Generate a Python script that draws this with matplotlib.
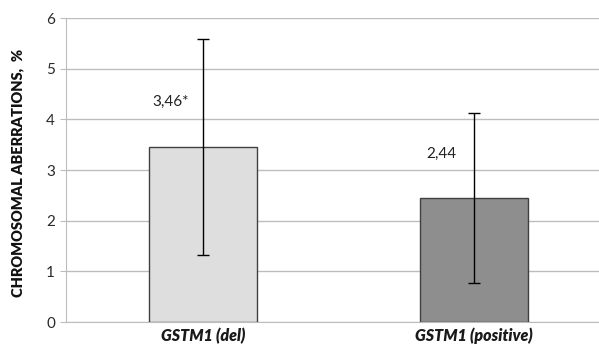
import numpy as np
import matplotlib.pyplot as plt

plt.rcParams['font.family'] = ['Lato', 'DejaVu Sans']

groups = ['GSTM1 (del)', 'GSTM1 (positive)']
means = [3.46, 2.44]
errs = [2.13, 1.68]
labels = ['3,46*', '2,44']
colors = ['#dedede', '#8e8e8e']

fig = plt.figure(figsize=(5.99, 3.45), dpi=100)
ax = fig.add_axes([66 / 599, 23 / 345, 533 / 599, 304 / 345])

x = np.arange(len(groups))
ax.bar(x, means, width=0.40, color=colors, edgecolor='#404040', linewidth=1.0, zorder=3)
ax.errorbar(x, means, yerr=errs, fmt='none', ecolor='black', elinewidth=1.0,
            capsize=4, capthick=1.0, zorder=4)

for xi, m, lab in zip(x, means, labels):
    ax.text(xi - 0.12, m + 0.88, lab, ha='center', va='center', fontsize=11, color='#222222')

ax.set_xlim(-0.5055, 1.461)
ax.set_ylim(0, 6)
ax.set_yticks(range(0, 7))
ax.yaxis.grid(True, color='#bdbdbd', linewidth=1.0, zorder=0)
ax.set_axisbelow(True)

ax.set_xticks(x)
ax.set_xticklabels(groups, fontsize=11.5, fontweight='heavy', fontstyle='italic', color='#1a1a1a')
ax.tick_params(axis='x', length=0, pad=4)
ax.tick_params(axis='y', length=4, color='#bdbdbd', labelsize=11, labelcolor='#2a2a2a', pad=4)

for side in ['top', 'right']:
    ax.spines[side].set_visible(False)
ax.spines['left'].set_color('#bdbdbd')
ax.spines['bottom'].set_color('#bdbdbd')

fig.text(18 / 599, 0.5, 'CHROMOSOMAL ABERRATIONS,  %', rotation=90, ha='center', va='center',
         fontsize=10.5, fontweight='heavy', color='#111111')

fig.savefig('out.png', dpi=100)
